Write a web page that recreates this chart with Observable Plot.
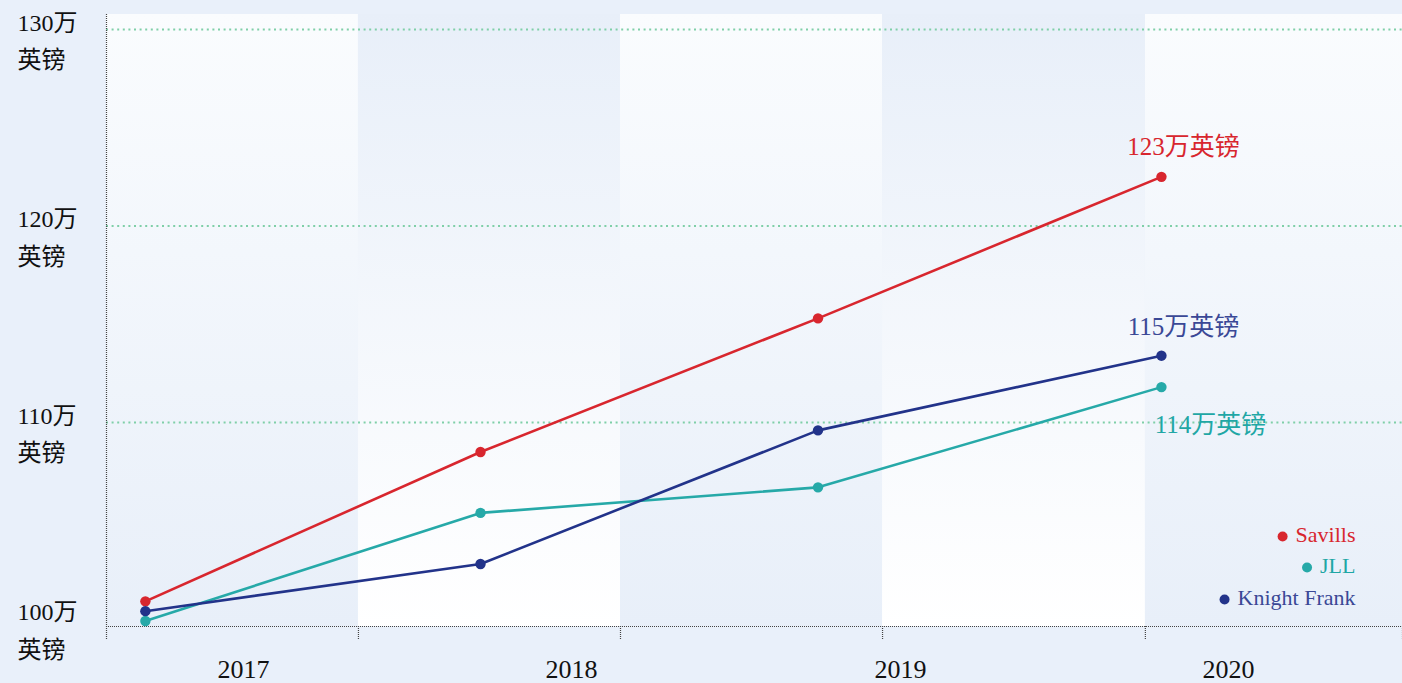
<!DOCTYPE html>
<html>
<head>
<meta charset="utf-8">
<script src="https://cdn.jsdelivr.net/npm/d3@7"></script>
<script src="https://cdn.jsdelivr.net/npm/@observablehq/plot@0.6"></script>
<style>
  html, body { margin: 0; padding: 0; background: #e9f0fa; }
  #chart svg { display: block; }
</style>
</head>
<body>
<div id="chart"></div>
<script>
// ---- data ----
const years = ["2017", "2018", "2019", "2020"];
const pointPos = [0.150, 1.443, 2.745, 4.070];   // x position of each year's points (band units)
const yearLabelPos = [0.529, 1.794, 3.063, 4.329]; // x position of year labels
const bandEdges = [0, 0.972, 1.983, 2.994, 4.008, 5];
const series = ["Savills", "JLL", "Knight Frank"];
const savills = [100.9, 108.5, 115.3, 122.5];
const jll = [99.9, 105.4, 106.7, 111.8];
const knightFrank = [100.4, 102.8, 109.6, 113.4];
const endLabels = ["123万英镑", "114万英镑", "115万英镑"];
const yTicks = [100, 110, 120, 130];
const gridTicks = [110, 120, 130];
const seriesColors = ["#d8262e", "#26a9a8", "#22338a"];
const labelColors = ["#d8262e", "#1fa7a5", "#3a4896"];

// ---- tables ----
const valuesBySeries = [savills, jll, knightFrank];
const rows = series.flatMap((s, si) => valuesBySeries[si].map((v, i) => ({series: s, year: years[i], x: pointPos[i], value: v})));
const bands = bandEdges.slice(0, -1).map((e, i) => ({x1: e, x2: bandEdges[i + 1], kind: i % 2}));

const yDomain = [99.62, 130.76];
const font = "'Liberation Serif', 'Noto Sans CJK SC', serif";

// legend widths
const ctx = document.createElement("canvas").getContext("2d");
ctx.font = "22px 'Liberation Serif'";
const legendWidths = series.map(s => ctx.measureText(s).width);

const endOffsets = [[22, -32], [49, 36], [22, -31]];
const legendDy = [-91, -60, -28];

const marks = [
  Plot.rect(bands.filter(b => b.kind === 0), {x1: "x1", x2: "x2", fill: "url(#bandA)"}),
  Plot.rect(bands.filter(b => b.kind === 1), {x1: "x1", x2: "x2", fill: "url(#bandB)"}),
  Plot.ruleY(gridTicks, {stroke: "#7fcfa8", strokeWidth: 2, strokeDasharray: "2,3.6"}),
  Plot.ruleY([yDomain[0]], {stroke: "#444", strokeWidth: 1.2, strokeDasharray: "1,1"}),
  Plot.ruleX([bandEdges[0]], {stroke: "#444", strokeWidth: 1.2, strokeDasharray: "1,1", insetBottom: -14}),
  Plot.ruleX(bandEdges.slice(1), {stroke: "#444", strokeWidth: 1.2, strokeDasharray: "1,1", insetTop: 612, insetBottom: -14}),
  Plot.text(yTicks, {y: d => d, text: d => `${d}万\n英镑`, frameAnchor: "left", dx: -89, textAnchor: "start", lineAnchor: "top", dy: -25, lineHeight: 1.55, fontSize: 24, fill: "#111"}),
  Plot.text(years, {x: (d, i) => yearLabelPos[i], text: d => d, frameAnchor: "bottom", dy: 51, fontSize: 26, fill: "#111"}),
  Plot.line(rows, {x: "x", y: "value", z: "series", stroke: "series", strokeWidth: 2.6}),
  Plot.dot(rows, {x: "x", y: "value", fill: "series", r: 5.2})
];

series.forEach((s, si) => {
  const vals = valuesBySeries[si];
  marks.push(Plot.text([endLabels[si]], {
    x: pointPos[pointPos.length - 1], y: vals[vals.length - 1], text: d => d,
    dx: endOffsets[si][0], dy: endOffsets[si][1] + 2, fontSize: 25, fill: labelColors[si]
  }));
  marks.push(Plot.text([s], {
    frameAnchor: "bottom-right", text: d => d, textAnchor: "end",
    dx: -47, dy: legendDy[si] + 6, fontSize: 22, fill: labelColors[si]
  }));
  marks.push(Plot.dot([s], {
    frameAnchor: "bottom-right", dx: -47 - legendWidths[si] - 13, dy: legendDy[si] + 1,
    r: 5, fill: seriesColors[si]
  }));
});

const chart = Plot.plot({
  width: 1402,
  height: 683,
  marginLeft: 106,
  marginRight: 0,
  marginTop: 14,
  marginBottom: 57,
  style: {background: "transparent", fontFamily: font},
  x: {domain: [0, 5], axis: null},
  y: {domain: yDomain, axis: null},
  color: {domain: series, range: seriesColors},
  marks
});

const ns = "http://www.w3.org/2000/svg";
const defs = document.createElementNS(ns, "defs");
defs.innerHTML = `
  <linearGradient id="bandA" x1="0" y1="0" x2="0" y2="1">
    <stop offset="0" stop-color="#fafcfe"/>
    <stop offset="1" stop-color="#e8eff9"/>
  </linearGradient>
  <linearGradient id="bandB" x1="0" y1="0" x2="0" y2="1">
    <stop offset="0" stop-color="#e8eff9"/>
    <stop offset="1" stop-color="#ffffff"/>
  </linearGradient>`;
chart.insertBefore(defs, chart.firstChild);
document.getElementById("chart").appendChild(chart);
</script>
</body>
</html>
